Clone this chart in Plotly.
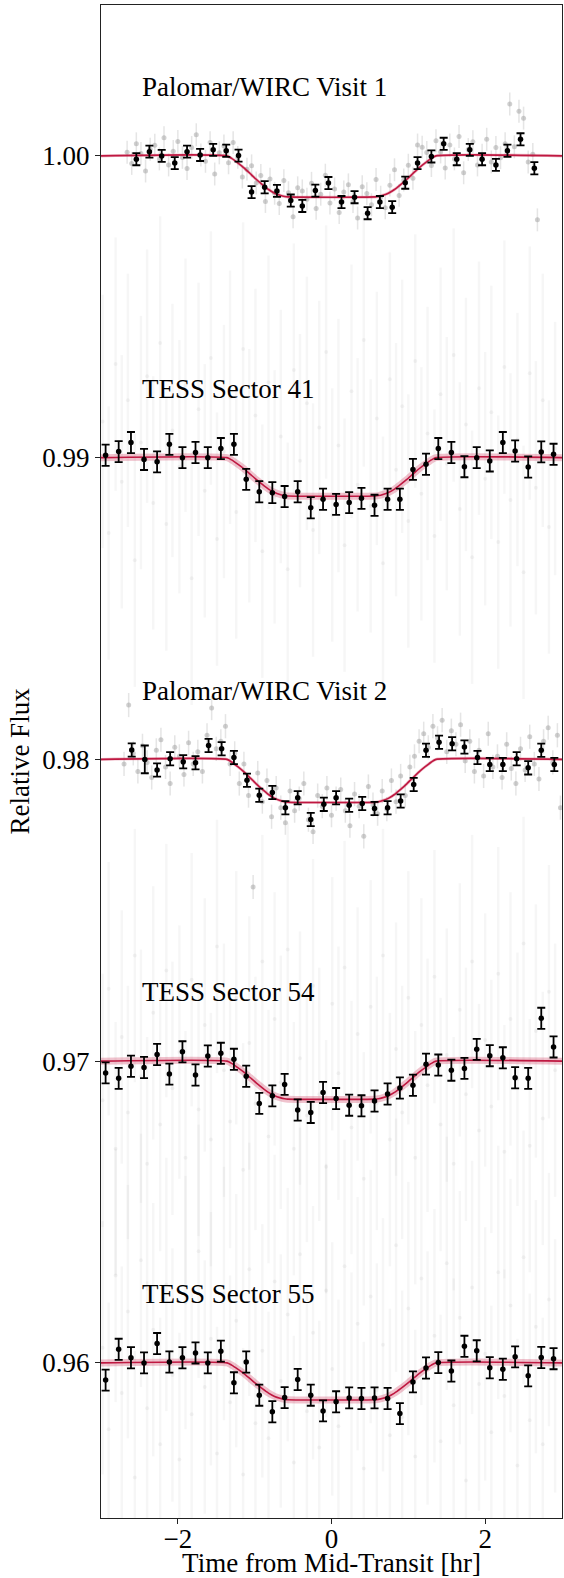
import plotly.graph_objects as go

# ---------------- data ----------------
panel_names = ["Palomar/WIRC Visit 1", "TESS Sector 41", "Palomar/WIRC Visit 2",
               "TESS Sector 54", "TESS Sector 55"]
panel_offsets = [0.0, -0.01, -0.02, -0.03, -0.04]
panel_depths = [0.00136, 0.00127, 0.00142, 0.00126, 0.00122]

# model transit shape (fraction of depth)
model_t = [-3.0, -1.36, -1.30, -1.22, -1.14, -1.06, -0.98, -0.90, -0.82, -0.74, -0.67,
           -0.61, -0.57, 0.57, 0.61, 0.67, 0.74, 0.82, 0.90, 0.98, 1.06, 1.14, 1.22,
           1.30, 1.36, 3.0]
model_frac = [0, 0, 0.06, 0.17, 0.29, 0.43, 0.57, 0.70, 0.82, 0.91, 0.96,
              0.99, 1.0, 1.0, 0.99, 0.96, 0.91, 0.82, 0.70, 0.57, 0.43, 0.29, 0.17,
              0.06, 0, 0]

# ---- binned points ----
v1_bin_t = [-2.54, -2.37, -2.21, -2.04, -1.88, -1.71, -1.54, -1.37, -1.21, -1.04,
            -0.87, -0.71, -0.53, -0.38, -0.21, -0.04, 0.13, 0.30, 0.47, 0.63,
            0.79, 0.96, 1.12, 1.30, 1.46, 1.63, 1.80, 1.96, 2.14, 2.29, 2.46, 2.64]
v1_bin_f = [0.99989, 1.00014, 1.00000, 0.99976, 1.00014, 1.00003, 1.00020, 1.00017, 1.00001, 0.99880,
            0.99896, 0.99884, 0.99852, 0.99834, 0.99885, 0.99910, 0.99847, 0.99863, 0.99810, 0.99847,
            0.99830, 0.99911, 0.99976, 0.99998, 1.00040, 0.99989, 1.00020, 0.99989, 0.99970, 1.00017,
            1.00055, 0.99959]
v1_bin_err = 0.00020

tess_bin_t = [-2.94, -2.77, -2.61, -2.44, -2.27, -2.11, -1.94, -1.77, -1.61, -1.44,
              -1.27, -1.11, -0.94, -0.77, -0.61, -0.44, -0.27, -0.11, 0.06, 0.23,
              0.39, 0.56, 0.73, 0.89, 1.06, 1.23, 1.39, 1.56, 1.73, 1.89,
              2.06, 2.23, 2.39, 2.56, 2.73, 2.89]
s41_bin_f = [1.00008, 1.00020, 1.00050, 0.99994, 0.99986, 1.00044, 1.00000, 1.00017, 1.00000, 1.00030,
             1.00044, 0.99928, 0.99887, 0.99884, 0.99871, 0.99887, 0.99834, 0.99862, 0.99845, 0.99851,
             0.99865, 0.99842, 0.99862, 0.99862, 0.99961, 0.99978, 1.00030, 1.00017, 0.99970, 1.00000,
             0.99989, 1.00050, 1.00022, 0.99969, 1.00019, 1.00011]
s54_bin_f = [0.99961, 0.99943, 0.99983, 0.99979, 1.00022, 0.99957, 1.00031, 0.99954, 1.00017, 1.00026,
             1.00006, 0.99950, 0.99860, 0.99885, 0.99923, 0.99838, 0.99830, 0.99896, 0.99876, 0.99854,
             0.99852, 0.99868, 0.99891, 0.99911, 0.99920, 0.99990, 0.99987, 0.99970, 0.99976, 1.00039,
             1.00018, 1.00011, 0.99945, 0.99943, 1.00142, 1.00047]
s55_bin_f = [0.99943, 1.00045, 1.00017, 1.00000, 1.00064, 1.00003, 1.00017, 1.00033, 1.00000, 1.00039,
             0.99934, 1.00003, 0.99893, 0.99838, 0.99885, 0.99945, 0.99893, 0.99841, 0.99871, 0.99884,
             0.99882, 0.99884, 0.99882, 0.99832, 0.99937, 0.99983, 1.00001, 0.99973, 1.00055, 1.00040,
             0.99984, 0.99979, 1.00020, 0.99957, 1.00018, 1.00014]
tess_bin_err = 0.00035

v2_bin_t = [-2.60, -2.43, -2.27, -2.10, -1.93, -1.77, -1.60, -1.43, -1.27, -1.10,
            -0.94, -0.77, -0.60, -0.44, -0.27, -0.10, 0.06, 0.23, 0.40, 0.56,
            0.73, 0.90, 1.07, 1.23, 1.40, 1.57, 1.73, 1.90, 2.06, 2.23,
            2.41, 2.56, 2.73, 2.90]
v2_bin_f = [1.00031, 1.00000, 0.99965, 1.00002, 0.99992, 0.99989, 1.00046, 1.00035, 1.00006, 0.99931,
            0.99881, 0.99890, 0.99840, 0.99873, 0.99801, 0.99851, 0.99873, 0.99848, 0.99854, 0.99837,
            0.99840, 0.99862, 0.99917, 1.00030, 1.00057, 1.00052, 1.00041, 1.00006, 0.99983, 0.99983,
            1.00002, 0.99972, 1.00030, 0.99983]
v2_bin_err = [0.00022, 0.00046, 0.00022, 0.00022, 0.00022, 0.00022, 0.00022, 0.00022, 0.00022, 0.00022,
              0.00022, 0.00022, 0.00022, 0.00022, 0.00022, 0.00022, 0.00022, 0.00022, 0.00022, 0.00022,
              0.00022, 0.00022, 0.00022, 0.00022, 0.00022, 0.00022, 0.00022, 0.00022, 0.00022, 0.00022,
              0.00022, 0.00022, 0.00022, 0.00022]

# ---- unbinned Palomar points ----
v1_raw_t = [-2.66, -2.60, -2.54, -2.48, -2.42, -2.36, -2.30, -2.24, -2.18, -2.12,
            -2.06, -2.00, -1.94, -1.88, -1.82, -1.76, -1.70, -1.64, -1.58, -1.52,
            -1.46, -1.40, -1.34, -1.28, -1.22, -1.16, -1.10, -1.04, -0.98, -0.92,
            -0.86, -0.80, -0.74, -0.68, -0.62, -0.56, -0.50, -0.44, -0.38, -0.32,
            -0.26, -0.20, -0.14, -0.08, -0.02, 0.04, 0.10, 0.16, 0.22, 0.28,
            0.34, 0.40, 0.46, 0.52, 0.58, 0.64, 0.70, 0.76, 0.82, 0.88,
            0.94, 1.00, 1.06, 1.12, 1.18, 1.24, 1.30, 1.36, 1.42, 1.48,
            1.54, 1.60, 1.66, 1.72, 1.78, 1.84, 1.90, 1.96, 2.02, 2.08,
            2.14, 2.20, 2.26, 2.32, 2.38, 2.44, 2.50, 2.56, 2.62, 2.68]
v1_raw_f = [1.00012, 0.99975, 1.00040, 1.00008, 0.99950, 1.00022, 1.00035, 0.99990, 1.00060, 0.99970,
            1.00015, 1.00048, 0.99995, 0.99958, 1.00028, 1.00070, 1.00003, 0.99982, 1.00044, 0.99940,
            1.00010, 1.00033, 0.99977, 1.00044, 0.99995, 0.99930, 0.99956, 0.99967, 0.99910, 0.99935,
            0.99849, 0.99923, 0.99876, 0.99842, 0.99918, 0.99878, 0.99798, 0.99894, 0.99884, 0.99856,
            0.99909, 0.99826, 0.99873, 0.99936, 0.99844, 0.99890, 0.99812, 0.99880, 0.99904, 0.99849,
            0.99794, 0.99898, 0.99875, 0.99838, 0.99922, 0.99863, 0.99828, 0.99903, 0.99954, 0.99869,
            0.99920, 0.99969, 0.99926, 1.00036, 1.00029, 1.00011, 0.99968, 1.00050, 1.00013, 0.99960,
            1.00036, 0.99990, 1.00064, 0.99944, 1.00021, 1.00047, 0.99970, 1.00002, 1.00055, 0.99980,
            1.00028, 0.99994, 1.00040, 1.00172, 1.00030, 1.00148, 1.00125, 0.99980, 1.00005, 0.99788]
v1_raw_err = 0.00038

v2_raw_t = [-2.70, -2.64, -2.58, -2.52, -2.46, -2.40, -2.34, -2.28, -2.22, -2.16,
            -2.10, -2.04, -1.98, -1.92, -1.86, -1.80, -1.74, -1.68, -1.62, -1.56,
            -1.50, -1.44, -1.38, -1.32, -1.26, -1.20, -1.14, -1.08, -1.02, -0.96,
            -0.90, -0.84, -0.78, -0.72, -0.66, -0.60, -0.54, -0.48, -0.42, -0.36,
            -0.30, -0.24, -0.18, -0.12, -0.06, 0.00, 0.06, 0.12, 0.18, 0.24,
            0.30, 0.36, 0.42, 0.48, 0.54, 0.60, 0.66, 0.72, 0.78, 0.84,
            0.90, 0.96, 1.02, 1.08, 1.14, 1.20, 1.26, 1.32, 1.38, 1.44,
            1.50, 1.56, 1.62, 1.68, 1.74, 1.80, 1.86, 1.92, 1.98, 2.04,
            2.10, 2.16, 2.22, 2.28, 2.34, 2.40, 2.46, 2.52, 2.58, 2.64,
            2.70, 2.76, 2.82, 2.88, 2.94, 2.98]
v2_raw_f = [0.99985, 1.00180, 1.00020, 0.99960, 1.00045, 0.99990, 0.99940, 1.00030, 1.00065, 0.99975,
            0.99920, 1.00040, 1.00010, 0.99950, 1.00055, 0.99985, 1.00025, 0.99960, 1.00080, 1.00170,
            1.00035, 1.00060, 1.00110, 0.99985, 1.00020, 0.99920, 0.99985, 0.99880, 0.99577, 0.99955,
            0.99860, 0.99930, 0.99810, 0.99905, 0.99840, 0.99790, 0.99895, 0.99830, 0.99870, 0.99920,
            0.99800, 0.99760, 0.99880, 0.99845, 0.99905, 0.99815, 0.99870, 0.99900, 0.99830, 0.99780,
            0.99885, 0.99845, 0.99745, 0.99910, 0.99850, 0.99820, 0.99895, 0.99835, 0.99930, 0.99860,
            0.99945, 0.99880, 0.99975, 1.00010, 1.00060, 1.00085, 1.00040, 1.00110, 1.00070, 1.00130,
            1.00025, 1.00095, 1.00050, 1.00115, 0.99995, 1.00060, 0.99960, 1.00030, 0.99945, 1.00085,
            0.99975, 1.00010, 0.99940, 1.00050, 0.99970, 0.99920, 1.00035, 0.99965, 1.00075, 0.99985,
            0.99935, 1.00060, 1.00105, 0.99990, 1.00080, 0.99840]
v2_raw_err = 0.00040

# ---- unbinned TESS points (faint haze) ----
tess_raw_t = [-2.98, -2.90, -2.81, -2.73, -2.65, -2.56, -2.48, -2.40, -2.32, -2.23,
              -2.15, -2.07, -1.98, -1.90, -1.82, -1.73, -1.65, -1.57, -1.49, -1.40,
              -1.32, -1.24, -1.15, -1.07, -0.99, -0.90, -0.82, -0.74, -0.66, -0.57,
              -0.49, -0.41, -0.32, -0.24, -0.16, -0.07, 0.01, 0.09, 0.17, 0.26,
              0.34, 0.42, 0.51, 0.59, 0.67, 0.76, 0.84, 0.92, 1.00, 1.09,
              1.17, 1.25, 1.34, 1.42, 1.50, 1.59, 1.67, 1.75, 1.83, 1.92,
              2.00, 2.08, 2.17, 2.25, 2.33, 2.42, 2.50, 2.58, 2.66, 2.75,
              2.83, 2.91]
s41_raw_f = [1.0012, 0.9975, 1.0031, 0.9992, 1.0019, 0.9966, 1.0005, 1.0027, 0.9985, 1.0038,
             0.9978, 1.0009, 0.9997, 1.0024, 0.9960, 1.0016, 0.9989, 1.0033, 0.9973, 1.0002,
             1.0020, 0.9982, 1.0036, 0.9994, 1.0014, 0.9969, 1.0025, 0.9987, 1.0007, 0.9963,
             1.0029, 0.9999, 1.0018, 0.9976, 1.0010, 1.0035, 0.9981, 1.0004, 0.9971, 1.0022,
             0.9991, 1.0039, 0.9984, 1.0013, 0.9965, 1.0026, 0.9996, 1.0017, 0.9979, 1.0032,
             0.9988, 1.0008, 0.9974, 1.0021, 0.9998, 1.0034, 0.9983, 1.0011, 0.9967, 1.0023,
             0.9993, 1.0015, 0.9972, 1.0030, 0.9986, 1.0006, 0.9962, 1.0028, 0.9990, 1.0019,
             0.9977, 1.0003]
s54_raw_f = [0.9987, 1.0024, 0.9971, 1.0008, 0.9983, 1.0035, 0.9995, 0.9966, 1.0016, 0.9979,
             1.0030, 0.9991, 1.0003, 0.9968, 1.0027, 0.9984, 1.0012, 0.9974, 1.0038, 0.9997,
             0.9980, 1.0021, 0.9964, 1.0006, 0.9986, 1.0033, 0.9975, 1.0014, 0.9993, 1.0037,
             0.9971, 1.0001, 0.9982, 1.0025, 0.9989, 0.9965, 1.0019, 0.9996, 1.0031, 0.9978,
             1.0009, 0.9961, 1.0018, 0.9986, 1.0035, 0.9974, 1.0004, 0.9983, 1.0021, 0.9968,
             1.0012, 0.9992, 1.0028, 0.9979, 1.0002, 0.9966, 1.0017, 0.9989, 1.0033, 0.9977,
             1.0007, 0.9985, 1.0029, 0.9970, 1.0014, 0.9994, 1.0039, 0.9972, 1.0010, 0.9981,
             1.0023, 0.9997]
s55_raw_f = [1.0005, 0.9978, 1.0029, 0.9990, 1.0017, 0.9962, 1.0034, 0.9985, 1.0011, 0.9973,
             1.0026, 0.9996, 0.9968, 1.0020, 0.9983, 1.0037, 0.9992, 1.0008, 0.9970, 1.0023,
             0.9987, 1.0014, 0.9963, 1.0031, 0.9980, 1.0004, 0.9975, 1.0027, 0.9994, 1.0016,
             0.9967, 1.0036, 0.9984, 1.0010, 0.9972, 1.0024, 0.9998, 0.9979, 1.0032, 0.9988,
             1.0013, 0.9965, 1.0022, 0.9991, 1.0006, 0.9976, 1.0039, 0.9982, 1.0018, 0.9969,
             1.0028, 0.9995, 1.0009, 0.9974, 1.0033, 0.9986, 1.0015, 0.9961, 1.0025, 0.9993,
             1.0003, 0.9977, 1.0030, 0.9989, 1.0019, 0.9966, 1.0035, 0.9981, 1.0012, 0.9973,
             1.0021, 0.9999]
tess_raw_err = 0.0042

x_ticks = [-2, 0, 2]
y_ticks = [0.96, 0.97, 0.98, 0.99, 1.00]
y_ticktext = ["0.96", "0.97", "0.98", "0.99", "1.00"]

# ---------------- figure ----------------
FONT = "Liberation Serif"
RED = "#bf1841"
fig = go.Figure()


def shift(vals, off):
    return [v + off for v in vals]


# TESS haze
for f_raw, off in [(s41_raw_f, panel_offsets[1]), (s54_raw_f, panel_offsets[3]),
                   (s55_raw_f, panel_offsets[4])]:
    fig.add_trace(go.Scatter(
        x=tess_raw_t, y=shift(f_raw, off), mode="markers",
        marker=dict(size=4, color="rgba(0,0,0,0.045)"),
        error_y=dict(type="constant", value=tess_raw_err, color="rgba(0,0,0,0.035)",
                     thickness=2.5, width=0),
        showlegend=False, hoverinfo="skip"))

# Palomar unbinned
for t_raw, f_raw, err, off in [(v1_raw_t, v1_raw_f, v1_raw_err, panel_offsets[0]),
                               (v2_raw_t, v2_raw_f, v2_raw_err, panel_offsets[2])]:
    fig.add_trace(go.Scatter(
        x=t_raw, y=shift(f_raw, off), mode="markers",
        marker=dict(size=5, color="rgba(150,150,150,0.45)"),
        error_y=dict(type="constant", value=err, color="rgba(170,170,170,0.3)",
                     thickness=1.5, width=0),
        showlegend=False, hoverinfo="skip"))

# models
band_w = [3, 7, 3, 7, 7]
for i, (off, depth) in enumerate(zip(panel_offsets, panel_depths)):
    y_model = [1 + off - depth * fr for fr in model_frac]
    fig.add_trace(go.Scatter(x=model_t, y=y_model, mode="lines",
                             line=dict(color="rgba(200,40,80,0.28)", width=band_w[i],
                                       shape="spline", smoothing=0.6),
                             showlegend=False, hoverinfo="skip"))
    fig.add_trace(go.Scatter(x=model_t, y=y_model, mode="lines",
                             line=dict(color=RED, width=1.6, shape="spline", smoothing=0.6),
                             showlegend=False, hoverinfo="skip"))

# binned points
binned = [
    (v1_bin_t, v1_bin_f, dict(type="constant", value=v1_bin_err), panel_offsets[0]),
    (tess_bin_t, s41_bin_f, dict(type="constant", value=tess_bin_err), panel_offsets[1]),
    (v2_bin_t, v2_bin_f, dict(type="data", array=v2_bin_err), panel_offsets[2]),
    (tess_bin_t, s54_bin_f, dict(type="constant", value=tess_bin_err), panel_offsets[3]),
    (tess_bin_t, s55_bin_f, dict(type="constant", value=tess_bin_err), panel_offsets[4]),
]
for t_b, f_b, err, off in binned:
    err.update(color="black", thickness=1.8, width=4)
    fig.add_trace(go.Scatter(x=t_b, y=shift(f_b, off), mode="markers",
                             marker=dict(size=5.5, color="black"),
                             error_y=err, showlegend=False))

# panel labels
for name, off in zip(panel_names, panel_offsets):
    fig.add_annotation(x=-2.49, y=1.0 + off + 0.00228, text=name, showarrow=False,
                       xanchor="left", yanchor="middle",
                       font=dict(family=FONT, size=27, color="black"))

axis_common = dict(showline=True, linecolor="#222", linewidth=1, mirror=True,
                   ticks="outside", ticklen=5, tickwidth=1, tickcolor="#222",
                   showgrid=False, zeroline=False,
                   tickfont=dict(family=FONT, size=27, color="black"))
fig.update_xaxes(range=[-3.0, 3.0], tickvals=x_ticks, ticklabelstandoff=-8,
                 title=dict(text="Time from Mid-Transit [hr]",
                            font=dict(family=FONT, size=27, color="black"), standoff=0),
                 automargin=False, **axis_common)
fig.update_yaxes(range=[0.95486, 1.00500], tickvals=y_ticks, ticktext=y_ticktext,
                 title=dict(text="Relative Flux",
                            font=dict(family=FONT, size=27, color="black"), standoff=4),
                 automargin=False, **axis_common)
fig.update_layout(width=564, height=1578, margin=dict(l=101, r=2, t=5, b=60),
                  plot_bgcolor="white", paper_bgcolor="white", showlegend=False)

fig.write_html("out.html", config={"displayModeBar": False},
               post_script="document.body.style.margin='0';document.body.style.padding='0';"
                           "document.body.style.overflow='hidden';")
